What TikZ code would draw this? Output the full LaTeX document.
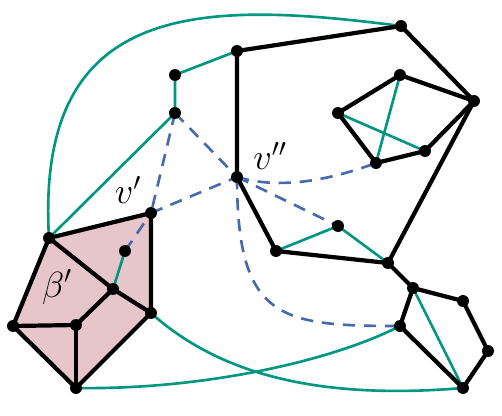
\documentclass[tikz,border=0pt]{standalone}
\usepackage{amsmath}
\definecolor{edgegreen}{RGB}{0,150,128}
\definecolor{dualblue}{RGB}{72,104,176}
\definecolor{facepink}{RGB}{230,198,202}
\tikzset{
    primal/.style={line width=2.4pt, black, line join=round},
    link/.style={line width=1.5pt, edgegreen},
    dual/.style={line width=1.5pt, dualblue, dash pattern=on 7pt off 5pt},
    face/.style={fill=facepink, draw=black, line width=2.4pt, line join=round},
    lbl/.style={font=\huge, inner sep=1pt}
}
\begin{document}
\begin{tikzpicture}[x=0.02cm, y=-0.02cm]
    \useasboundingbox (0,0) rectangle (502,415);
    % pentagon beta'
    \coordinate (A) at (49,238);
    \coordinate (B) at (151,213);
    \coordinate (C) at (151,313);
    \coordinate (D) at (76,388);
    \coordinate (E) at (13,326);
    \coordinate (F) at (113,289);
    \coordinate (G) at (76,325);
    \coordinate (H) at (125,251);
    % top part
    \coordinate (P1) at (175,75);
    \coordinate (P2) at (175,113);
    \coordinate (V2) at (237,51);
    \coordinate (V) at (237,177);
    \coordinate (TR) at (401,26);
    % small pentagon upper right
    \coordinate (Q1) at (400,75);
    \coordinate (Q2) at (338,113);
    \coordinate (Q3) at (376,163);
    \coordinate (Q4) at (425,151);
    \coordinate (Q5) at (474,101);
    % middle and lower right
    \coordinate (S1) at (276,251);
    \coordinate (S2) at (338,226);
    \coordinate (R1) at (388,263);
    \coordinate (T1) at (413,288);
    \coordinate (T2) at (463,301);
    \coordinate (T3) at (488,351);
    \coordinate (T4) at (463,388);
    \coordinate (T5) at (400,326);

    \draw[face] (A) -- (B) -- (C) -- (D) -- (E) -- cycle;

    % green edges
    \draw[link] (A) .. controls (35,0) and (200,0) .. (TR);
    \draw[link] (A) -- (P2) -- (P1) -- (V2);
    \draw[link] (H) -- (F);
    \draw[link] (Q1) -- (Q3);
    \draw[link] (Q2) -- (Q4);
    \draw[link] (S1) -- (S2) -- (R1);
    \draw[link] (T1) -- (T4);
    \draw[link] (D) .. controls (200,390) and (330,362) .. (T5);
    \draw[link] (C) .. controls (220,375) and (320,400) .. (T4);

    % dual edges
    \draw[dual] (P2) -- (B);
    \draw[dual] (P2) -- (V);
    \draw[dual] (B) -- (V);
    \draw[dual] (H) -- (B);
    \draw[dual] (V) -- (S2);
    \draw[dual] (V) .. controls (280,190) and (330,180) .. (Q3);
    \draw[dual] (V) .. controls (237,320) and (280,326) .. (T5);

    % black edges
    \draw[primal] (A) -- (F) -- (C);
    \draw[primal] (F) -- (G) -- (E);
    \draw[primal] (G) -- (D);
    \draw[primal] (V) -- (V2) -- (TR) -- (Q5) -- (R1);
    \draw[primal] (Q1) -- (Q2) -- (Q3) -- (Q4) -- (Q5) -- cycle;
    \draw[primal] (V) -- (S1) -- (R1) -- (T1) -- (T2) -- (T3) -- (T4) -- (T5) -- (T1);

    \foreach \p in {A,B,C,D,E,F,G,H,P1,P2,V2,V,TR,Q1,Q2,Q3,Q4,Q5,S1,S2,R1,T1,T2,T3,T4,T5}
        \fill (\p) circle (3.4pt);

    \node[lbl] (vp) at (128,190) {$v'$};
    \node[lbl] (vpp) at (270,156) {$v''$};
    \node[lbl] (beta) at (57,287) {$\beta'$};
\end{tikzpicture}
\end{document}
